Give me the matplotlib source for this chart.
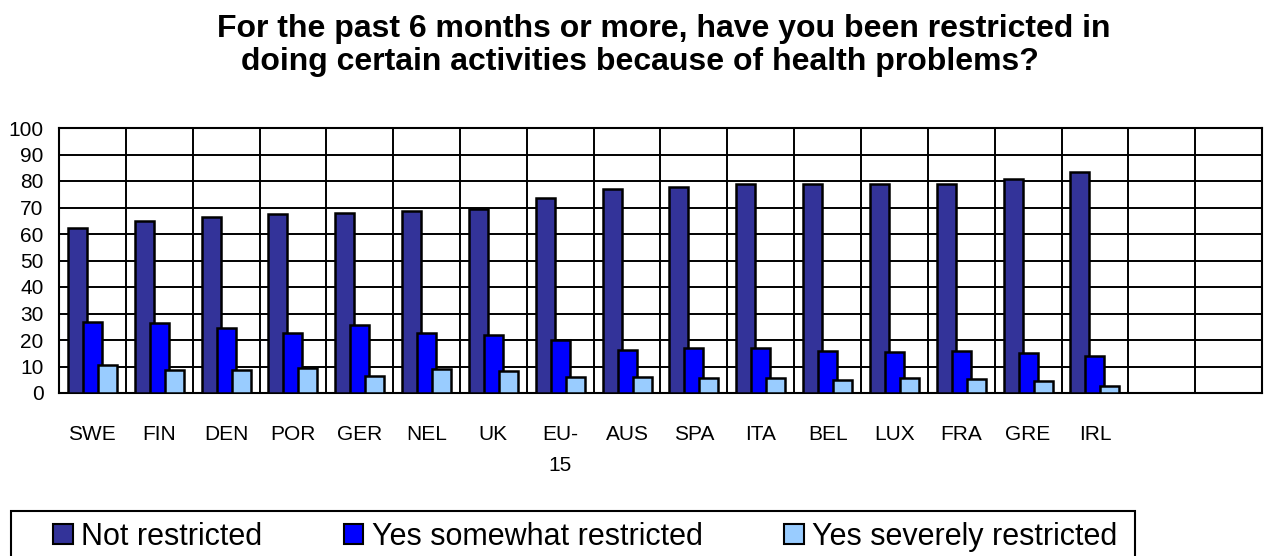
import numpy as np
import matplotlib
matplotlib.use("Agg")
import matplotlib.pyplot as plt
from matplotlib.patches import Rectangle

plt.rcParams['font.family'] = ['Liberation Sans', 'DejaVu Sans']

countries = ['SWE', 'FIN', 'DEN', 'POR', 'GER', 'NEL', 'UK', 'EU-\n15', 'AUS',
             'SPA', 'ITA', 'BEL', 'LUX', 'FRA', 'GRE', 'IRL', '', '']
not_restricted = [62.4, 64.9, 66.5, 67.7, 67.9, 68.6, 69.4, 73.5, 77.0,
                  77.6, 78.7, 78.9, 78.9, 78.9, 80.6, 83.4]
somewhat = [26.9, 26.3, 24.5, 22.5, 25.8, 22.8, 22.0, 20.1, 16.2,
            17.1, 17.1, 16.0, 15.3, 16.0, 15.0, 14.0]
severely = [10.6, 8.7, 8.6, 9.6, 6.4, 8.9, 8.3, 6.2, 6.2,
            5.5, 5.5, 4.9, 5.5, 5.2, 4.5, 2.6]
series_names = ['Not restricted', 'Yes somewhat restricted', 'Yes severely restricted']
colors = ['#333399', '#0000FF', '#99CCFF']

W, H = 1268, 556
fig = plt.figure(figsize=(W / 100, H / 100), dpi=100)
ax = fig.add_axes([59/W, 1 - 393/H, (1262 - 59)/W, (393 - 128)/H])

x = np.arange(len(not_restricted))
w = 0.285
for vals, off, c, name in zip([not_restricted, somewhat, severely],
                              [-0.225, 0.0, 0.225], colors, series_names):
    ax.bar(x + off, vals, width=w, color=c, edgecolor='black', linewidth=1.8,
           label=name, zorder=3)

ax.set_xlim(-0.5, len(countries) - 0.5)
ax.set_ylim(0, 100)
ax.set_yticks(range(0, 101, 10))
ax.set_xticks(range(len(countries)))
ax.set_xticklabels(countries, fontsize=15, linespacing=1.8)
ax.tick_params(axis='both', length=0, labelsize=15)
ax.tick_params(axis='x', pad=23)
ax.tick_params(axis='y', pad=11)

# grid: horizontal every 10, vertical between categories
for yv in range(10, 100, 10):
    ax.axhline(yv, color='black', linewidth=1.4, zorder=1)
for xv in np.arange(0.5, len(countries) - 0.5, 1):
    ax.axvline(xv, color='black', linewidth=1.4, zorder=1)
for s in ax.spines.values():
    s.set_linewidth(1.5)
    s.set_color('black')

fig.text(217/W, 1 - 37/H, 'For the past 6 months or more, have you been restricted in',
         ha='left', va='baseline', fontsize=23, fontweight='bold')
fig.text(241/W, 1 - 70/H, 'doing certain activities because of health problems?',
         ha='left', va='baseline', fontsize=23, fontweight='bold')

# legend box (runs off the bottom edge like the original)
fig.patches.append(Rectangle((11/W, -0.05), (1135 - 11)/W, 0.05 + (1 - 511/H),
                             transform=fig.transFigure, facecolor='white',
                             edgecolor='black', linewidth=1.5, zorder=0))
leg = fig.legend(loc='upper left', bbox_to_anchor=(53/W, 1 - 522/H),
                 ncol=3, fontsize=22, frameon=False,
                 handlelength=0.65, handleheight=0.65,
                 handletextpad=0.28, columnspacing=2.65, borderpad=0,
                 borderaxespad=0)
for h in leg.legend_handles:
    h.set_linewidth(1.5)

fig.savefig('out.png', dpi=100)
